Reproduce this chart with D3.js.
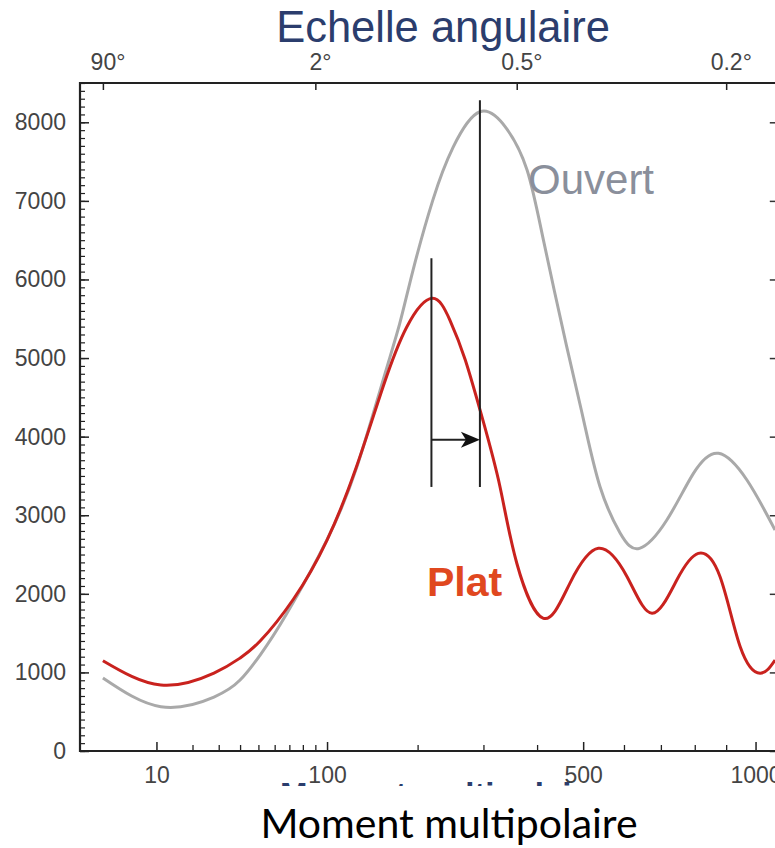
<!DOCTYPE html>
<html><head><meta charset="utf-8">
<script src="https://cdn.jsdelivr.net/npm/d3@7"></script>
<style>
html,body{margin:0;padding:0;background:#fff;}
svg{display:block;}
</style></head>
<body>
<svg id="chart" width="775" height="848"></svg>
<script>
// ---- data ----
const platEll    = [2, 11, 28, 40, 51, 73, 100, 128, 157, 186, 220, 246, 270, 299, 329, 360, 413, 470, 536, 608, 675, 746, 811, 880, 947, 1016, 1070];
const platValues = [1149, 840, 992, 1183, 1399, 1934, 2684, 3617, 4635, 5398, 5760, 5483, 4975, 4211, 3363, 2392, 1688, 2137, 2579, 2218, 1752, 2176, 2515, 2218, 1327, 989, 1158];
const ouvEll     = [2, 11, 28, 40, 51, 68, 100, 128, 157, 177, 194, 221, 251, 294, 341, 380, 413, 462, 501, 540, 590, 641, 717, 796, 875, 970, 1070];
const ouvValues  = [929, 564, 687, 903, 1221, 1743, 2690, 3600, 4720, 5441, 6120, 7010, 7684, 8134, 7920, 7392, 6501, 5165, 4211, 3363, 2774, 2579, 2939, 3533, 3788, 3448, 2812];
const xMajorTicks = [10, 100, 500, 1000];
const xMinorTicks = [20, 30, 40, 50, 60, 70, 80, 90, 200, 300, 400, 600, 700, 800, 900];
const angleTicks  = [90, 2, 0.5, 0.2];           // degrees, ell = 180/theta
const angleLabels = ["90°", "2°", "0.5°", "0.2°"];
const yMajorTicks = [0, 1000, 2000, 3000, 4000, 5000, 6000, 7000, 8000];
const shiftFrom = 219, shiftTo = 294;            // peak positions (annotation)

const svg = d3.select("#chart");
const x = d3.scalePow().exponent(0.4).domain([0.59, 1080]).range([80, 777.8]);
const y = d3.scaleLinear().domain([0, 8500]).range([751, 83]);

const labelFont = "'Liberation Sans', Arial, Helvetica, sans-serif";

// clip
svg.append("defs").append("clipPath").attr("id", "plotclip")
  .append("rect").attr("x", x(0.59)).attr("y", y(8500)).attr("width", x(1080) - x(0.59)).attr("height", y(0) - y(8500));

// minor ticks y
const yMinor = d3.range(0, 8501, 100);
svg.append("g").attr("transform", `translate(${x(0.59)},0)`)
  .call(d3.axisLeft(y).tickValues(yMinor).tickSize(-5).tickFormat(""))
  .call(g => g.select(".domain").remove())
  .selectAll("line").attr("stroke", "#222").attr("stroke-width", 1.2);
// major y
svg.append("g").attr("transform", `translate(${x(0.59)},0)`)
  .call(d3.axisLeft(y).tickValues(yMajorTicks).tickSize(-9).tickPadding(14).tickFormat(d3.format("d")))
  .call(g => g.select(".domain").remove())
  .call(g => g.selectAll("line").attr("stroke", "#222").attr("stroke-width", 1.5))
  .call(g => g.selectAll("text").attr("font-family", labelFont).attr("font-size", 23).attr("fill", "#444"));
// right ticks
svg.append("g").attr("transform", `translate(${x(1080)},0)`)
  .call(d3.axisRight(y).tickValues(yMajorTicks).tickSize(-8).tickFormat(""))
  .call(g => g.select(".domain").remove())
  .selectAll("line").attr("stroke", "#333").attr("stroke-width", 1.5);

// bottom axis
svg.append("g").attr("transform", `translate(0,${y(0)})`)
  .call(d3.axisBottom(x).tickValues(xMinorTicks).tickSize(-6).tickFormat(""))
  .call(g => g.select(".domain").remove())
  .selectAll("line").attr("stroke", "#222").attr("stroke-width", 1.3);
svg.append("g").attr("transform", `translate(0,${y(0)})`)
  .call(d3.axisBottom(x).tickValues(xMajorTicks).tickSize(-9).tickPadding(16).tickFormat(d3.format("d")))
  .call(g => g.select(".domain").remove())
  .call(g => g.selectAll("line").attr("stroke", "#222").attr("stroke-width", 1.5))
  .call(g => g.selectAll("text").attr("font-family", labelFont).attr("font-size", 23).attr("fill", "#444"));

// top axis (angular scale)
const angleEll = angleTicks.map(t => 180 / t);
svg.append("g").attr("transform", `translate(0,${y(8500)})`)
  .call(d3.axisTop(x).tickValues(angleEll).tickSize(-7).tickPadding(13).tickFormat((d, i) => angleLabels[i]))
  .call(g => g.select(".domain").remove())
  .call(g => g.selectAll("line").attr("stroke", "#222").attr("stroke-width", 1.5))
  .call(g => g.selectAll("text").attr("font-family", labelFont).attr("font-size", 23).attr("fill", "#444").attr("dx", "0.2em"));

// frame
svg.append("path")
  .attr("d", `M${x(1080)},${y(8500)}H${x(0.59)}V${y(0)}H${x(1080)}`)
  .attr("fill", "none").attr("stroke", "#222").attr("stroke-width", 2.2);

// curves
const line = d3.line().curve(d3.curveNatural).x(d => x(d[0])).y(d => y(d[1]));
const gc = svg.append("g").attr("clip-path", "url(#plotclip)");
gc.append("path").datum(ouvEll.map((e, i) => [e, ouvValues[i]]))
  .attr("d", line).attr("fill", "none").attr("stroke", "#a9a9a9").attr("stroke-width", 3);
gc.append("path").datum(platEll.map((e, i) => [e, platValues[i]]))
  .attr("d", line).attr("fill", "none").attr("stroke", "#c9221e").attr("stroke-width", 3);

// annotation lines
const ann = svg.append("g").attr("stroke", "#222").attr("stroke-width", 2);
ann.append("line").attr("x1", x(shiftFrom)).attr("x2", x(shiftFrom)).attr("y1", y(6270)).attr("y2", y(3360));
ann.append("line").attr("x1", x(shiftTo)).attr("x2", x(shiftTo)).attr("y1", y(8280)).attr("y2", y(3360));
ann.append("line").attr("x1", x(shiftFrom)).attr("x2", x(shiftTo) - 12).attr("y1", y(3960)).attr("y2", y(3960));
const tipX = x(shiftTo), tipY = y(3960);
svg.append("path")
  .attr("d", `M${tipX},${tipY} L${tipX - 19},${tipY - 8} L${tipX - 14},${tipY} L${tipX - 19},${tipY + 8} Z`)
  .attr("fill", "#111");

// series labels
svg.append("text").attr("x", 528).attr("y", 194).text("Ouvert")
  .attr("font-family", labelFont).attr("font-size", 42).attr("fill", "#8a8f9b");
svg.append("text").attr("x", 427).attr("y", 596).text("Plat")
  .attr("font-family", labelFont).attr("font-size", 41).attr("font-weight", "bold").attr("fill", "#e0481f");

// title
svg.append("text").attr("x", 443).attr("y", 42).attr("text-anchor", "middle").text("Echelle angulaire")
  .attr("font-family", labelFont).attr("font-size", 43.5).attr("fill", "#2b3d6d");

// original (blue) axis title, mostly hidden under the overlay
svg.append("clipPath").attr("id", "blueclip").append("rect").attr("x", 0).attr("y", 770).attr("width", 775).attr("height", 16);
svg.append("text").attr("x", 280).attr("y", 806).text("Moment multipolaire")
  .attr("clip-path", "url(#blueclip)")
  .attr("font-family", labelFont).attr("font-size", 33).attr("font-weight", "bold").attr("fill", "#2b3d6d");

// x axis title
svg.append("text").attr("x", 449).attr("y", 838).attr("text-anchor", "middle").text("Moment multipolaire")
  .attr("font-family", "Lato, 'Noto Sans', sans-serif").attr("font-size", 41).attr("fill", "#000");
</script>
</body></html>
